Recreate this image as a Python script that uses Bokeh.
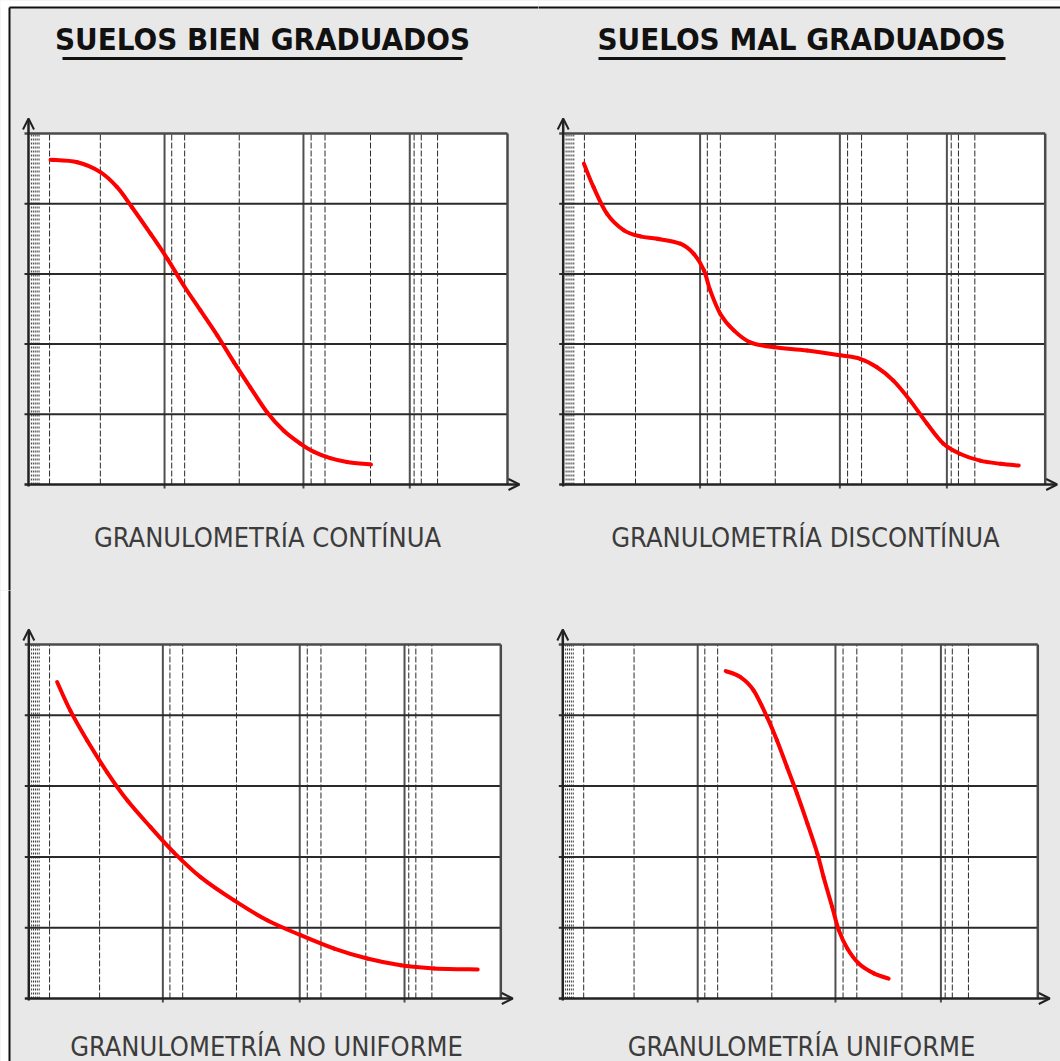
from bokeh.plotting import figure
from bokeh.layouts import row, column
from bokeh.models import Arrow, OpenHead, Range1d
from bokeh.core.properties import value
from bokeh.embed import file_html
from bokeh.resources import INLINE

# ---------------- data ----------------
TITLES = ["SUELOS BIEN GRADUADOS", "SUELOS MAL GRADUADOS"]
SUBTITLES = ["GRANULOMETRÍA CONTÍNUA", "GRANULOMETRÍA DISCONTÍNUA",
             "GRANULOMETRÍA NO UNIFORME", "GRANULOMETRÍA UNIFORME"]

Y_GRID = [20, 40, 60, 80]
X_MAJOR = [28.4, 57.4, 79.6]
X_MINOR = [4.4, 15.0, 29.9, 32.6, 44.0, 59.0, 61.9, 71.4, 80.5, 82.0, 85.4]
X_FINE = [0.6, 1.0, 1.4, 1.8, 2.2]

cont_x = [4.6, 10.2, 15.0, 18.5, 21.6, 25.5, 29.0, 32.4, 35.9, 39.4, 42.9, 46.3,
          49.8, 53.3, 56.8, 59.6, 63.0, 66.5, 71.5]
cont_y = [92.5, 91.8, 89.0, 84.7, 79.0, 71.4, 64.3, 56.7, 49.6, 42.5, 34.8, 27.7,
          20.6, 15.3, 11.6, 9.3, 7.5, 6.4, 5.7]

disc_x = [4.3, 6.3, 9.1, 12.6, 16.0, 19.5, 24.3, 27.1, 29.2, 30.5, 32.6, 35.4, 38.8,
          43.7, 50.6, 57.5, 61.6, 65.1, 68.5, 72.0, 75.5, 78.9, 82.4, 86.5, 90.7, 94.5]
disc_y = [91.4, 84.7, 77.1, 72.4, 70.7, 70.0, 68.6, 65.7, 61.0, 55.3, 48.6, 43.9, 40.5,
          39.1, 38.2, 36.8, 35.8, 33.4, 29.6, 23.9, 17.3, 11.6, 8.7, 6.8, 5.9, 5.4]

nouni_x = [6.0, 8.8, 12.4, 16.6, 20.9, 25.8, 30.7, 36.4, 43.5, 50.5, 57.6, 64.7,
           71.7, 78.8, 85.9, 95.1]
nouni_y = [89.4, 81.3, 72.8, 63.9, 55.9, 48.4, 41.3, 34.3, 27.7, 22.1, 17.9, 14.1,
           11.3, 9.4, 8.5, 8.2]

uni_x = [34.3, 37.4, 40.2, 43.0, 45.1, 47.2, 49.3, 51.5, 53.6, 54.9, 56.7, 58.1,
         59.9, 62.3, 65.5, 68.6]
uni_y = [92.5, 90.8, 87.0, 79.5, 72.9, 65.4, 57.9, 49.4, 40.9, 34.3, 25.9, 19.3,
         14.1, 9.9, 7.1, 5.6]

# ---------------- style / layout ----------------
BG = "#e8e8e8"
GRID_DARK = "#2a2a2a"
TITLE_FONT = value("DejaVu Sans Condensed")
SUB_FONT = value("DejaVu Sans Condensed")
BORDER_PX = (9, 7)  # page px of outer frame's left / top line

# figure size & page origin; plot area in page px (left, top, w, h)
PANELS = [
    dict(size=(538, 590), origin=(0, 0), plot=(28, 133, 479, 351),
         curve=(cont_x, cont_y), title=TITLES[0], title_px=(262, 38),
         underline_px=(62, 462, 58), sub=SUBTITLES[0], sub_px=(267, 537)),
    dict(size=(522, 590), origin=(538, 0), plot=(562.7, 133, 482, 351),
         curve=(disc_x, disc_y), title=TITLES[1], title_px=(801, 38),
         underline_px=(598, 1005, 58), sub=SUBTITLES[1], sub_px=(805, 537)),
    dict(size=(538, 471), origin=(0, 590), plot=(28.3, 644, 472, 354),
         curve=(nouni_x, nouni_y), title=None, title_px=None,
         underline_px=None, sub=SUBTITLES[2], sub_px=(266, 1046)),
    dict(size=(522, 471), origin=(538, 590), plot=(562.3, 644, 475, 354),
         curve=(uni_x, uni_y), title=None, title_px=None,
         underline_px=None, sub=SUBTITLES[3], sub_px=(801, 1046)),
]


def smooth_segments(xs, ys):
    """Cubic Bezier pieces through the read points (Catmull-Rom tangents)."""
    n = len(xs)
    out = {k: [] for k in ("x0", "y0", "x1", "y1", "cx0", "cy0", "cx1", "cy1")}
    for i in range(n - 1):
        a = max(i - 1, 0)
        d = min(i + 2, n - 1)
        out["x0"].append(xs[i]); out["y0"].append(ys[i])
        out["x1"].append(xs[i + 1]); out["y1"].append(ys[i + 1])
        out["cx0"].append(xs[i] + (xs[i + 1] - xs[a]) / 6.0)
        out["cy0"].append(ys[i] + (ys[i + 1] - ys[a]) / 6.0)
        out["cx1"].append(xs[i + 1] - (xs[d] - xs[i]) / 6.0)
        out["cy1"].append(ys[i + 1] - (ys[d] - ys[i]) / 6.0)
    return out


def make_panel(cfg):
    fw, fh = cfg["size"]
    ox, oy = cfg["origin"]
    pl, pt, pw, ph = cfg["plot"]
    left, top = pl - ox, pt - oy
    sx, sy = pw / 100.0, ph / 100.0
    x0, x1 = -left / sx, (fw - left) / sx
    y1, y0 = 100 + top / sy, 100 - (fh - top) / sy

    def dx(px):  # page px -> data x
        return (px - pl) / sx

    def dy(py):  # page px -> data y
        return 100 - (py - pt) / sy

    p = figure(width=fw, height=fh, x_range=Range1d(x0, x1), y_range=Range1d(y0, y1),
               x_axis_type=None, y_axis_type=None, output_backend="svg",
               toolbar_location=None, min_border=0)
    p.grid.visible = False
    p.outline_line_color = None
    p.background_fill_color = BG
    p.border_fill_color = BG

    # white page outside the grey sheet, and the sheet's black left/top frame line
    has_left = ox < BORDER_PX[0]
    has_top = oy < BORDER_PX[1]
    ex0, ex1, ey0, ey1 = x0 - 20, x1 + 20, y0 - 20, y1 + 20
    if has_left:
        p.quad(left=[ex0], right=[dx(BORDER_PX[0])], bottom=[ey0], top=[ey1],
               fill_color="white", line_color=None)
    if has_top:
        p.quad(left=[ex0], right=[ex1], bottom=[dy(BORDER_PX[1])], top=[ey1],
               fill_color="white", line_color=None)
    if has_left:
        p.segment(x0=[dx(BORDER_PX[0])], y0=[ey0], x1=[dx(BORDER_PX[0])],
                  y1=[dy(BORDER_PX[1]) if has_top else ey1],
                  line_color="#111111", line_width=2)
    if has_top:
        p.segment(x0=[dx(BORDER_PX[0]) if has_left else ex0], y0=[dy(BORDER_PX[1])],
                  x1=[ex1], y1=[dy(BORDER_PX[1])], line_color="#111111", line_width=2)

    # white plotting area
    p.quad(left=[0], right=[100], bottom=[0], top=[100], fill_color="white", line_color=None)

    # fine dotted lines near origin
    p.segment(x0=X_FINE, y0=[0] * len(X_FINE), x1=X_FINE, y1=[100] * len(X_FINE),
              line_color="#333333", line_width=1, line_dash="2 2")
    # minor dashed lines
    p.segment(x0=X_MINOR, y0=[0] * len(X_MINOR), x1=X_MINOR, y1=[100] * len(X_MINOR),
              line_color="#2a2a2a", line_width=1, line_dash="6 2")
    # major lines
    p.segment(x0=X_MAJOR, y0=[-4 / sy] * len(X_MAJOR), x1=X_MAJOR, y1=[100] * len(X_MAJOR),
              line_color="#505050", line_width=2)
    # horizontal grid lines
    hx0 = -4 / sx
    p.segment(x0=[hx0] * len(Y_GRID), y0=Y_GRID, x1=[100] * len(Y_GRID), y1=Y_GRID,
              line_color=GRID_DARK, line_width=2)
    # top border and right border
    p.segment(x0=[hx0, 100], y0=[100, 0], x1=[100, 100], y1=[100, 100],
              line_color="#4a4a4a", line_width=2.5)

    # axes with arrows
    p.add_layout(Arrow(end=OpenHead(size=11, line_width=2, line_color="#222222"),
                       x_start=hx0, y_start=0, x_end=100 + 12 / sx, y_end=0,
                       line_color="#222222", line_width=2.5))
    p.add_layout(Arrow(end=OpenHead(size=11, line_width=2, line_color="#222222"),
                       x_start=0, y_start=-2 / sy, x_end=0, y_end=100 + 15 / sy,
                       line_color="#222222", line_width=2.5))

    # curve (smooth cubic pieces through the read points)
    cx, cy = cfg["curve"]
    seg = smooth_segments(cx, cy)
    p.bezier(line_color="#ff0000", line_width=4, line_cap="round", **seg)

    # title
    if cfg["title"]:
        tx, ty = cfg["title_px"]
        p.text(x=[dx(tx)], y=[dy(ty)], text=[cfg["title"]], text_font=TITLE_FONT,
               text_font_size="31px", text_font_style="bold", text_align="center",
               text_baseline="middle", text_color="#111111")
        ux0, ux1, uy = cfg["underline_px"]
        p.segment(x0=[dx(ux0)], y0=[dy(uy)], x1=[dx(ux1)], y1=[dy(uy)],
                  line_color="#111111", line_width=3)

    # subtitle
    sxp, syp = cfg["sub_px"]
    p.text(x=[dx(sxp)], y=[dy(syp)], text=[cfg["sub"]], text_font=SUB_FONT,
           text_font_size="27px", text_align="center", text_baseline="middle",
           text_color="#3c3c3c")
    return p


figs = [make_panel(c) for c in PANELS]
layout = column(row(figs[0], figs[1], spacing=0, styles={"background-color": BG}),
                row(figs[2], figs[3], spacing=0, styles={"background-color": BG}),
                spacing=0, styles={"background-color": BG})

open("out.html", "w").write(file_html(layout, INLINE))
